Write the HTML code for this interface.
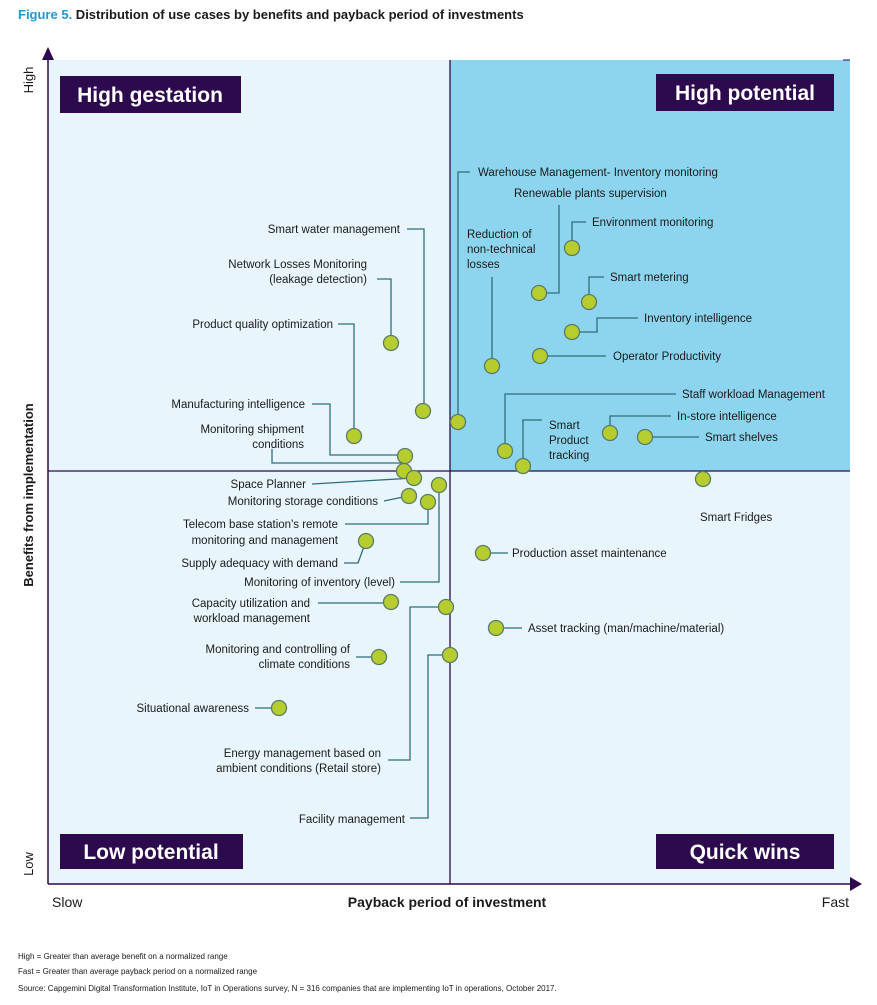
<!DOCTYPE html>
<html><head><meta charset="utf-8"><style>
body{margin:0;background:#fff;}
svg text{font-family:"Liberation Sans",sans-serif;}
</style></head><body>
<svg width="877" height="1000" viewBox="0 0 877 1000" xmlns="http://www.w3.org/2000/svg">
<text x="18" y="19" font-size="13" font-weight="bold" fill="#1a1a1a"><tspan fill="#1a9ad6">Figure 5.</tspan> Distribution of use cases by benefits and payback period of investments</text>
<rect x="48" y="60" width="802" height="824" fill="#e8f5fc"/>
<rect x="450" y="60" width="400" height="411" fill="#8dd5ee"/>
<line x1="450" y1="60" x2="450" y2="884" stroke="#2d0a4e" stroke-width="1.3"/>
<line x1="48" y1="471" x2="850" y2="471" stroke="#2d0a4e" stroke-width="1.3"/>
<line x1="843" y1="60" x2="850" y2="60" stroke="#2d0a4e" stroke-width="1"/>
<line x1="48" y1="56" x2="48" y2="884" stroke="#2d0a4e" stroke-width="1.5"/>
<polygon points="48,47 42,60 54,60" fill="#2d0a4e"/>
<line x1="48" y1="884" x2="852" y2="884" stroke="#2d0a4e" stroke-width="1.5"/>
<polygon points="862,884 850,877 850,891" fill="#2d0a4e"/>
<rect x="60" y="76" width="181" height="37" fill="#2d0a4e"/><text x="150" y="102" font-size="21" font-weight="bold" fill="#fff" text-anchor="middle">High gestation</text>
<rect x="656" y="74" width="178" height="37" fill="#2d0a4e"/><text x="745" y="100" font-size="21" font-weight="bold" fill="#fff" text-anchor="middle">High potential</text>
<rect x="60" y="834" width="183" height="35" fill="#2d0a4e"/><text x="151" y="859" font-size="21" font-weight="bold" fill="#fff" text-anchor="middle">Low potential</text>
<rect x="656" y="834" width="178" height="35" fill="#2d0a4e"/><text x="745" y="859" font-size="21" font-weight="bold" fill="#fff" text-anchor="middle">Quick wins</text>
<text transform="translate(33,80) rotate(-90)" font-size="13" fill="#1a1a1a" text-anchor="middle">High</text>
<text transform="translate(33,864) rotate(-90)" font-size="13" fill="#1a1a1a" text-anchor="middle">Low</text>
<text transform="translate(33,495) rotate(-90)" font-size="13" font-weight="bold" fill="#1a1a1a" text-anchor="middle">Benefits from implementation</text>
<text x="52" y="907" font-size="14" fill="#1a1a1a">Slow</text>
<text x="447" y="907" font-size="14" font-weight="bold" fill="#1a1a1a" text-anchor="middle">Payback period of investment</text>
<text x="849" y="907" font-size="14" fill="#1a1a1a" text-anchor="end">Fast</text>
<g fill="none" stroke="#2e6e7a" stroke-width="1.3">
<polyline points="458,422 458,172 470,172"/>
<polyline points="539,293 559,293 559,205"/>
<polyline points="572,248 572,222 586,222"/>
<polyline points="589,302 589,277 604,277"/>
<polyline points="572,332 597,332 597,318 638,318"/>
<polyline points="540,356 606,356"/>
<polyline points="492,366 492,277"/>
<polyline points="505,451 505,394 676,394"/>
<polyline points="610,433 610,416 671,416"/>
<polyline points="645,437 699,437"/>
<polyline points="523,466 523,420 542,420"/>
<polyline points="483,553 508,553"/>
<polyline points="496,628 522,628"/>
<polyline points="407,229 424,229 424,411"/>
<polyline points="377,279 391,279 391,343"/>
<polyline points="338,324 354,324 354,436"/>
<polyline points="312,404 330,404 330,455 405,455"/>
<polyline points="272,449 272,463 404,463"/>
<polyline points="312,484 414,478"/>
<polyline points="384,501 408,496"/>
<polyline points="428,502 428,524 345,524"/>
<polyline points="439,485 439,582 400,582"/>
<polyline points="344,563 358,563 366,541"/>
<polyline points="318,603 391,603"/>
<polyline points="446,607 410,607 410,760 388,760"/>
<polyline points="356,657 379,657"/>
<polyline points="450,655 428,655 428,818 410,818"/>
<polyline points="255,708 279,708"/>
</g>
<g fill="#b7cd2e" stroke="#5a7a6a" stroke-width="1.3">
<circle cx="458" cy="422" r="7.5"/><circle cx="539" cy="293" r="7.5"/><circle cx="572" cy="248" r="7.5"/>
<circle cx="589" cy="302" r="7.5"/><circle cx="572" cy="332" r="7.5"/><circle cx="540" cy="356" r="7.5"/>
<circle cx="492" cy="366" r="7.5"/><circle cx="505" cy="451" r="7.5"/><circle cx="610" cy="433" r="7.5"/>
<circle cx="645" cy="437" r="7.5"/><circle cx="523" cy="466" r="7.5"/><circle cx="703" cy="479" r="7.5"/>
<circle cx="483" cy="553" r="7.5"/><circle cx="496" cy="628" r="7.5"/><circle cx="423" cy="411" r="7.5"/>
<circle cx="391" cy="343" r="7.5"/><circle cx="354" cy="436" r="7.5"/><circle cx="405" cy="456" r="7.5"/>
<circle cx="404" cy="471" r="7.5"/><circle cx="414" cy="478" r="7.5"/><circle cx="439" cy="485" r="7.5"/>
<circle cx="409" cy="496" r="7.5"/><circle cx="428" cy="502" r="7.5"/><circle cx="366" cy="541" r="7.5"/>
<circle cx="391" cy="602" r="7.5"/><circle cx="446" cy="607" r="7.5"/><circle cx="379" cy="657" r="7.5"/>
<circle cx="450" cy="655" r="7.5"/><circle cx="279" cy="708" r="7.5"/>
</g>
<g font-size="11.5" fill="#1a1a1a">
<text x="478" y="176">Warehouse Management- Inventory monitoring</text>
<text x="514" y="197">Renewable plants supervision</text>
<text x="592" y="226">Environment monitoring</text>
<text x="467" y="238">Reduction of</text><text x="467" y="253">non-technical</text><text x="467" y="268">losses</text>
<text x="610" y="281">Smart metering</text>
<text x="644" y="322">Inventory intelligence</text>
<text x="613" y="360">Operator Productivity</text>
<text x="682" y="398">Staff workload Management</text>
<text x="677" y="420">In-store intelligence</text>
<text x="705" y="441">Smart shelves</text>
<text x="549" y="429">Smart</text><text x="549" y="444">Product</text><text x="549" y="459">tracking</text>
<text x="700" y="521">Smart Fridges</text>
<text x="512" y="557">Production asset maintenance</text>
<text x="528" y="632">Asset tracking (man/machine/material)</text>
</g>
<g font-size="11.5" fill="#1a1a1a" text-anchor="end">
<text x="400" y="233">Smart water management</text>
<text x="367" y="268">Network Losses Monitoring</text><text x="367" y="283">(leakage detection)</text>
<text x="333" y="328">Product quality optimization</text>
<text x="305" y="408">Manufacturing intelligence</text>
<text x="304" y="433">Monitoring shipment</text><text x="304" y="448">conditions</text>
<text x="306" y="488">Space Planner</text>
<text x="378" y="505">Monitoring storage conditions</text>
<text x="338" y="528">Telecom base station's remote</text><text x="338" y="544">monitoring and management</text>
<text x="338" y="567">Supply adequacy with demand</text>
<text x="395" y="586">Monitoring of inventory (level)</text>
<text x="310" y="607">Capacity utilization and</text><text x="310" y="622">workload management</text>
<text x="350" y="653">Monitoring and controlling of</text><text x="350" y="668">climate conditions</text>
<text x="249" y="712">Situational awareness</text>
<text x="381" y="757">Energy management based on</text><text x="381" y="772">ambient conditions (Retail store)</text>
<text x="405" y="823">Facility management</text>
</g>
<g font-size="8" fill="#1a1a1a">
<text x="18" y="959">High = Greater than average benefit on a normalized range</text>
<text x="18" y="974">Fast = Greater than average payback period on a normalized range</text>
<text x="18" y="991">Source: Capgemini Digital Transformation Institute, IoT in Operations survey, N = 316 companies that are implementing IoT in operations, October 2017.</text>
</g>
</svg>
</body></html>
